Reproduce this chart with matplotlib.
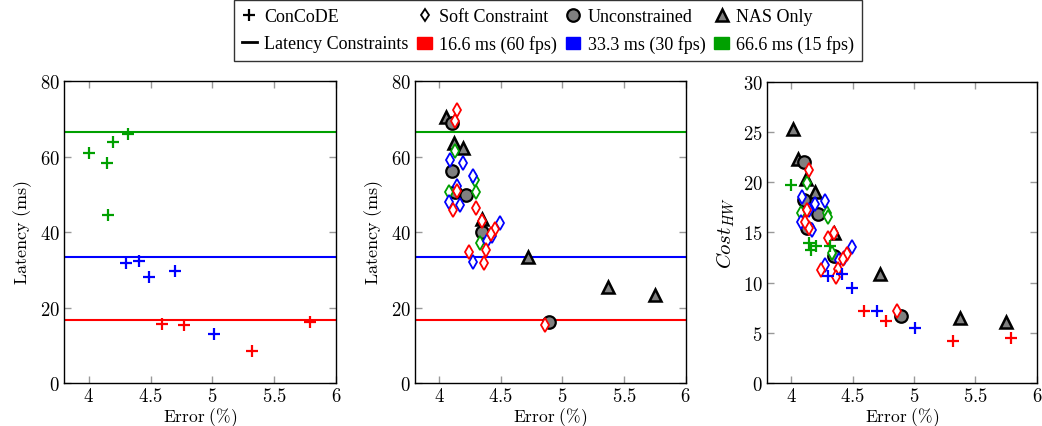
import matplotlib
matplotlib.use("Agg")
import matplotlib.pyplot as plt
from matplotlib.lines import Line2D
from matplotlib.patches import Patch
from matplotlib.ticker import FuncFormatter

plt.rcParams['font.family'] = 'serif'
plt.rcParams['font.serif'] = ['Liberation Serif', 'DejaVu Serif']
plt.rcParams['mathtext.fontset'] = 'cm'

RED, BLUE, GREEN = '#ff0000', '#0000ff', '#00a000'
GRAY = '#808080'

constraints = [16.6, 33.3, 66.6]
constraint_colors = [RED, BLUE, GREEN]
constraint_labels = ['16.6 ms (60 fps)', '33.3 ms (30 fps)', '66.6 ms (15 fps)']

# ConCoDE (per latency target)
concode_err = {
    'red': [4.59, 4.77, 5.32, 5.79],
    'blue': [4.30, 4.41, 4.49, 4.70, 5.01],
    'green': [4.00, 4.146, 4.16, 4.20, 4.316],
}
concode_lat = {
    'red': [15.7, 15.5, 8.5, 16.2],
    'blue': [31.8, 32.3, 28.0, 29.7, 12.9],
    'green': [60.9, 58.3, 44.6, 63.9, 66.0],
}
concode_cost = {
    'red': [7.2, 6.2, 4.2, 4.5],
    'blue': [10.7, 10.9, 9.5, 7.15, 5.5],
    'green': [19.7, 14.0, 13.3, 13.7, 13.7],
}

# Soft constraint (per latency target)
soft_err = {
    'red': [4.14, 4.13, 4.14, 4.11, 4.30, 4.35, 4.45, 4.42, 4.24, 4.38, 4.36, 4.86],
    'blue': [4.09, 4.19, 4.27, 4.14, 4.08, 4.17, 4.49, 4.43, 4.39, 4.27],
    'green': [4.13, 4.29, 4.30, 4.08, 4.33],
}
soft_lat = {
    'red': [72.4, 69.3, 50.9, 45.9, 46.4, 43.0, 40.8, 39.5, 34.6, 35.3, 31.8, 15.5],
    'blue': [59.2, 58.2, 54.9, 52.1, 48.0, 47.2, 42.3, 39.0, 37.7, 32.0],
    'green': [61.5, 53.9, 50.7, 50.5, 37.0],
}
soft_cost = {
    'red': [21.2, 17.2, 15.4, 16.0, 14.5, 14.9, 12.9, 12.4, 11.3, 11.4, 10.6, 7.2],
    'blue': [18.5, 17.8, 18.1, 17.2, 16.0, 15.2, 13.6, 12.5, 12.3, 11.8],
    'green': [19.9, 16.9, 16.5, 16.9, 13.0],
}

# Unconstrained
unc_err = [4.10, 4.10, 4.13, 4.22, 4.35, 4.89]
unc_lat = [69.0, 56.1, 50.5, 49.7, 40.1, 16.1]
unc_cost = [22.0, 18.2, 15.4, 16.8, 12.7, 6.7]

# NAS only
nas_err = [4.016, 4.05, 4.12, 4.19, 4.35, 4.72, 5.37, 5.75]
nas_lat = [84.0, 70.6, 63.7, 62.4, 43.4, 33.5, 25.4, 23.3]
nas_cost = [25.3, 22.3, 20.3, 19.0, 14.9, 10.9, 6.5, 6.1]

cmap = {'red': RED, 'blue': BLUE, 'green': GREEN}

plus_kw = dict(marker='+', linestyle='none', markersize=9, markeredgewidth=1.6)
dia_kw = dict(marker='d', linestyle='none', markersize=7, markerfacecolor='white',
              markeredgewidth=1.3)
circ_kw = dict(marker='o', linestyle='none', markersize=9, markerfacecolor=GRAY,
               markeredgecolor='black', markeredgewidth=1.6)
tri_kw = dict(marker='^', linestyle='none', markersize=8, markerfacecolor=GRAY,
              markeredgecolor='black', markeredgewidth=1.8)

fig = plt.figure(figsize=(10.42, 4.27), dpi=100)
ax1 = fig.add_axes([0.0614, 0.1007, 0.261, 0.707])
ax2 = fig.add_axes([0.398, 0.1007, 0.260, 0.707])
ax3 = fig.add_axes([0.736, 0.1007, 0.259, 0.705])

mfmt = FuncFormatter(lambda v, p: r'$%g$' % v)


def style(ax, ymax, ystep):
    ax.set_xlim(3.8, 6)
    ax.set_ylim(0, ymax)
    ax.set_xticks([4, 4.5, 5, 5.5, 6])
    ax.set_yticks(range(0, ymax + 1, ystep))
    ax.xaxis.set_major_formatter(mfmt)
    ax.yaxis.set_major_formatter(mfmt)
    ax.tick_params(direction='in', top=True, right=True, length=5, width=1,
                   color='#999999', labelsize=13.5, pad=3)
    ax.set_xlabel(r'$\mathrm{Error\ (\%)}$', fontsize=12.5, labelpad=0)
    for s in ax.spines.values():
        s.set_linewidth(1.0)


# left: ConCoDE latency
for c in ['red', 'blue', 'green']:
    ax1.plot(concode_err[c], concode_lat[c], color=cmap[c], **plus_kw, zorder=3)
for v, col in zip(constraints, constraint_colors):
    ax1.axhline(v, color=col, linewidth=1.5, zorder=2)
style(ax1, 80, 20)
ax1.set_ylabel(r'$\mathrm{Latency\ (ms)}$', fontsize=13)

# middle: baselines latency
for v, col in zip(constraints, constraint_colors):
    ax2.axhline(v, color=col, linewidth=1.5, zorder=2)
ax2.plot(nas_err, nas_lat, **tri_kw, zorder=3)
ax2.plot(unc_err, unc_lat, **circ_kw, zorder=3)
for c in ['green', 'blue', 'red']:
    ax2.plot(soft_err[c], soft_lat[c], markeredgecolor=cmap[c], **dia_kw, zorder=4)
style(ax2, 80, 20)
ax2.set_ylabel(r'$\mathrm{Latency\ (ms)}$', fontsize=13)

# right: hardware cost
ax3.plot(nas_err, nas_cost, **tri_kw, zorder=3)
ax3.plot(unc_err, unc_cost, **circ_kw, zorder=3)
for c in ['green', 'blue', 'red']:
    ax3.plot(soft_err[c], soft_cost[c], markeredgecolor=cmap[c], **dia_kw, zorder=4)
for c in ['red', 'blue', 'green']:
    ax3.plot(concode_err[c], concode_cost[c], color=cmap[c], **plus_kw, zorder=5)
style(ax3, 30, 5)
ax3.set_ylabel(r'$Cost_{HW}$', fontsize=15)

# legend (column-major fill)
h_concode = Line2D([], [], color='black', **plus_kw)
h_soft = Line2D([], [], markeredgecolor='black', **dict(dia_kw, markersize=6))
h_unc = Line2D([], [], **circ_kw)
h_nas = Line2D([], [], **tri_kw)
h_line = Line2D([], [], color='black', linewidth=2)
h_sq = [Patch(facecolor=col, edgecolor=col) for col in constraint_colors]

handles = [h_concode, h_line, h_soft, h_sq[0], h_unc, h_sq[1], h_nas, h_sq[2]]
labels = ['ConCoDE', 'Latency Constraints', 'Soft Constraint', constraint_labels[0],
          'Unconstrained', constraint_labels[1], 'NAS Only', constraint_labels[2]]
leg = fig.legend(handles, labels, loc='upper center', bbox_to_anchor=(0.526, 0.997),
                 ncol=4, fontsize=13, frameon=True, fancybox=False, edgecolor='black',
                 handlelength=0.8, handletextpad=0.4, columnspacing=0.5,
                 borderpad=0.45, labelspacing=0.55, borderaxespad=0)
leg.get_frame().set_linewidth(1.0)

fig.savefig('out.png', dpi=100)
